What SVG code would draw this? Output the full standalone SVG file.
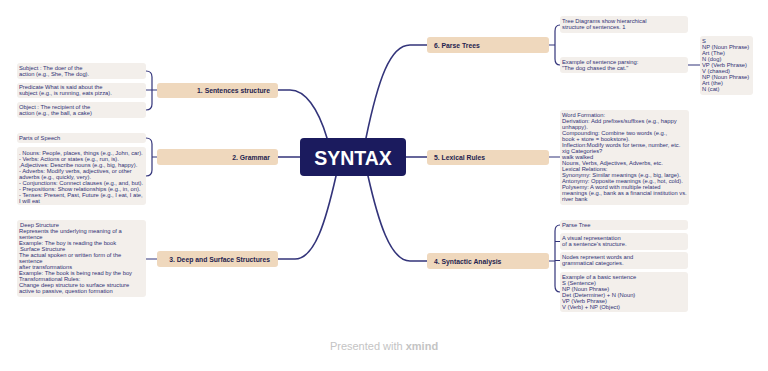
<svg xmlns="http://www.w3.org/2000/svg" width="768" height="371" viewBox="0 0 768 371">
<style>
.topic{fill:#efd8bd}
.sub{fill:#f3efeb}
.tt{font-family:"Liberation Sans",Arial,sans-serif;font-size:6.8px;font-weight:bold;fill:#25234f}
.st{font-family:"Liberation Sans",Arial,sans-serif;font-size:5.8px;fill:#2f2f74}
.ln{fill:none;stroke:#33347a;stroke-width:1.6;stroke-linecap:round}
.br{fill:none;stroke:#33347a;stroke-width:1.2;stroke-linecap:round}
</style>
<rect width="768" height="371" fill="#ffffff"/>
<g id="connectors">
<path class="ln" d="M327,138 C318,108 305,90 290,90 L278,90"/>
<path class="ln" d="M366,138 C378,80 390,45 410,45 L427,45"/>
<path class="ln" d="M300,157 L278,157"/>
<path class="ln" d="M406,157 L427,157"/>
<path class="ln" d="M336,176 C326,220 315,259 295,259 L278,259"/>
<path class="ln" d="M368,176 C378,220 390,261 410,261 L427,261"/>
<path class="br" d="M146,71 Q152,71 152,77 L152,104 Q152,110 146,110 M157,90 L146,90"/>
<path class="br" d="M146,138 Q152,138 152,144 L152,170 Q152,176 146,176 M157,157 L152,157"/>
<path class="br" d="M157,259 L146,259"/>
<path class="br" d="M549,45 L555,45 M560,25 Q555,25 555,31 L555,59 Q555,65 560,65"/>
<path class="br" d="M688,65 L700,65"/>
<path class="br" d="M549,157 L560,157"/>
<path class="br" d="M549,261 L555,261 M560,225 Q555,225 555,231 L555,286 Q555,292 560,292 M555,241.5 L560,241.5 M555,260.5 L560,260.5"/>
</g>
<g id="center">
<rect x="300" y="138" width="106" height="38" rx="4" fill="#1b1b5e"/>
<text x="353" y="164.5" text-anchor="middle" font-family="'Liberation Sans',Arial,sans-serif" font-size="19.5" font-weight="bold" fill="#ffffff">SYNTAX</text>
</g>
<g id="t1">
<rect class="topic" x="157" y="83" width="121" height="15" rx="3"/>
<text class="tt" x="270" y="93" text-anchor="end">1. Sentences structure</text>
</g>
<g id="t1a">
<rect class="sub" x="17" y="63" width="129" height="16" rx="3"/>
<text class="st" x="19" y="69.5">Subject : The doer of the</text>
<text class="st" x="19" y="75.5">action (e.g., She, The dog).</text>
</g>
<g id="t1b">
<rect class="sub" x="17" y="83" width="129" height="15" rx="3"/>
<text class="st" x="19" y="89">Predicate What is said about the</text>
<text class="st" x="19" y="95">subject (e.g., is running, eats pizza).</text>
</g>
<g id="t1c">
<rect class="sub" x="17" y="102" width="129" height="16" rx="3"/>
<text class="st" x="19" y="108.5">Object : The recipient of the</text>
<text class="st" x="19" y="114.5">action (e.g., the ball, a cake)</text>
</g>
<g id="t2">
<rect class="topic" x="157" y="149" width="121" height="16" rx="3"/>
<text class="tt" x="270" y="159.5" text-anchor="end">2. Grammar</text>
</g>
<g id="t2a">
<rect class="sub" x="17" y="133" width="129" height="10" rx="3"/>
<text class="st" x="19" y="140">Parts of Speech</text>
</g>
<g id="t2b">
<rect class="sub" x="17" y="147" width="129" height="58" rx="3"/>
<text class="st" x="19" y="154.5">. Nouns: People, places, things (e.g., John, car).</text>
<text class="st" x="19" y="160.5">- Verbs: Actions or states (e.g., run, is).</text>
<text class="st" x="19" y="166.5">,Adjectives: Describe nouns (e.g., big, happy).</text>
<text class="st" x="19" y="172.5">- Adverbs: Modify verbs, adjectives, or other</text>
<text class="st" x="19" y="178.5">adverbs (e.g., quickly, very).</text>
<text class="st" x="19" y="184.5">- Conjunctions: Connect clauses (e.g., and, but).</text>
<text class="st" x="19" y="190.5">- Prepositions: Show relationships (e.g., in, on).</text>
<text class="st" x="19" y="196.5">- Tenses: Present, Past, Future (e.g., I eat, I ate,</text>
<text class="st" x="19" y="202.5">I will eat</text>
</g>
<g id="t3">
<rect class="topic" x="157" y="251" width="121" height="16" rx="3"/>
<text class="tt" x="270" y="261.5" text-anchor="end">3. Deep and Surface Structures</text>
</g>
<g id="t3a">
<rect class="sub" x="17" y="220" width="129" height="77" rx="3"/>
<text class="st" x="20" y="227">Deep Structure</text>
<text class="st" x="19" y="233">Represents the underlying meaning of a</text>
<text class="st" x="19" y="239">sentence</text>
<text class="st" x="19" y="245">Example: The boy is reading the book</text>
<text class="st" x="20" y="251">Surface Structure</text>
<text class="st" x="19" y="257">The actual spoken or written form of the</text>
<text class="st" x="19" y="263">sentence</text>
<text class="st" x="19" y="269">after transformations</text>
<text class="st" x="19" y="275">Example: The book is being read by the boy</text>
<text class="st" x="19" y="281">Transformational Rules:</text>
<text class="st" x="19" y="287">Change deep structure to surface structure</text>
<text class="st" x="19" y="293">active to passive, question formation</text>
</g>
<g id="t6">
<rect class="topic" x="427" y="37" width="122" height="16" rx="3"/>
<text class="tt" x="434" y="47.5">6. Parse Trees</text>
</g>
<g id="t6a">
<rect class="sub" x="560" y="16" width="128" height="17" rx="3"/>
<text class="st" x="562" y="22.5">Tree Diagrams show hierarchical</text>
<text class="st" x="562" y="28.5">structure of sentences. 1</text>
</g>
<g id="t6b">
<rect class="sub" x="560" y="57" width="128" height="16" rx="3"/>
<text class="st" x="562" y="63.5">Example of sentence parsing:</text>
<text class="st" x="562" y="69.5">"The dog chased the cat."</text>
</g>
<g id="t6c">
<rect class="sub" x="700" y="36" width="53" height="59" rx="3"/>
<text class="st" x="702" y="43">S</text>
<text class="st" x="702" y="49">NP (Noun Phrase)</text>
<text class="st" x="702" y="55">Art (The)</text>
<text class="st" x="702" y="61">N (dog)</text>
<text class="st" x="702" y="67">VP (Verb Phrase)</text>
<text class="st" x="702" y="73">V (chased)</text>
<text class="st" x="702" y="79">NP (Noun Phrase)</text>
<text class="st" x="702" y="85">Art (the)</text>
<text class="st" x="702" y="91">N (cat)</text>
</g>
<g id="t5">
<rect class="topic" x="427" y="150" width="122" height="15" rx="3"/>
<text class="tt" x="434" y="160">5. Lexical Rules</text>
</g>
<g id="t5a">
<rect class="sub" x="560" y="110" width="129" height="95" rx="3"/>
<text class="st" x="562" y="117">Word Formation:</text>
<text class="st" x="562" y="123">Derivation: Add prefixes/suffixes (e.g., happy</text>
<text class="st" x="562" y="129">unhappy).</text>
<text class="st" x="562" y="135">Compounding: Combine two words (e.g.,</text>
<text class="st" x="562" y="141">book + store = bookstore).</text>
<text class="st" x="562" y="147">Inflection:Modify words for tense, number, etc.</text>
<text class="st" x="562" y="153">xig Categories?</text>
<text class="st" x="562" y="159">walk walked</text>
<text class="st" x="562" y="165">Nouns, Verbs, Adjectives, Adverbs, etc.</text>
<text class="st" x="562" y="171">Lexical Relations:</text>
<text class="st" x="562" y="177">Synonymy: Similar meanings (e.g., big, large).</text>
<text class="st" x="562" y="183">Antonymy: Opposite meanings (e.g., hot, cold).</text>
<text class="st" x="562" y="189">Polysemy: A word with multiple related</text>
<text class="st" x="562" y="195">meanings (e.g., bank as a financial institution vs.</text>
<text class="st" x="562" y="201">river bank</text>
</g>
<g id="t4">
<rect class="topic" x="427" y="253" width="122" height="16" rx="3"/>
<text class="tt" x="434" y="263.5">4. Syntactic Analysis</text>
</g>
<g id="t4a">
<rect class="sub" x="560" y="220" width="128" height="10" rx="3"/>
<text class="st" x="562" y="227">Parse Tree</text>
</g>
<g id="t4b">
<rect class="sub" x="560" y="233" width="128" height="17" rx="3"/>
<text class="st" x="562" y="239.5">A visual representation</text>
<text class="st" x="562" y="245.5">of a sentence's structure.</text>
</g>
<g id="t4c">
<rect class="sub" x="560" y="252" width="128" height="17" rx="3"/>
<text class="st" x="562" y="258.5">Nodes represent words and</text>
<text class="st" x="562" y="264.5">grammatical categories.</text>
</g>
<g id="t4d">
<rect class="sub" x="560" y="272" width="128" height="40" rx="3"/>
<text class="st" x="562" y="279">Example of a basic sentence</text>
<text class="st" x="562" y="285">S (Sentence)</text>
<text class="st" x="562" y="291">NP (Noun Phrase)</text>
<text class="st" x="562" y="297">Det (Determiner) + N (Noun)</text>
<text class="st" x="562" y="303">VP (Verb Phrase)</text>
<text class="st" x="562" y="309">V (Verb) + NP (Object)</text>
</g>
<text x="384" y="350" text-anchor="middle" font-family="'Liberation Sans',Arial,sans-serif" font-size="11" fill="#c4c4c4">Presented with <tspan font-weight="bold">xmind</tspan></text>
</svg>
